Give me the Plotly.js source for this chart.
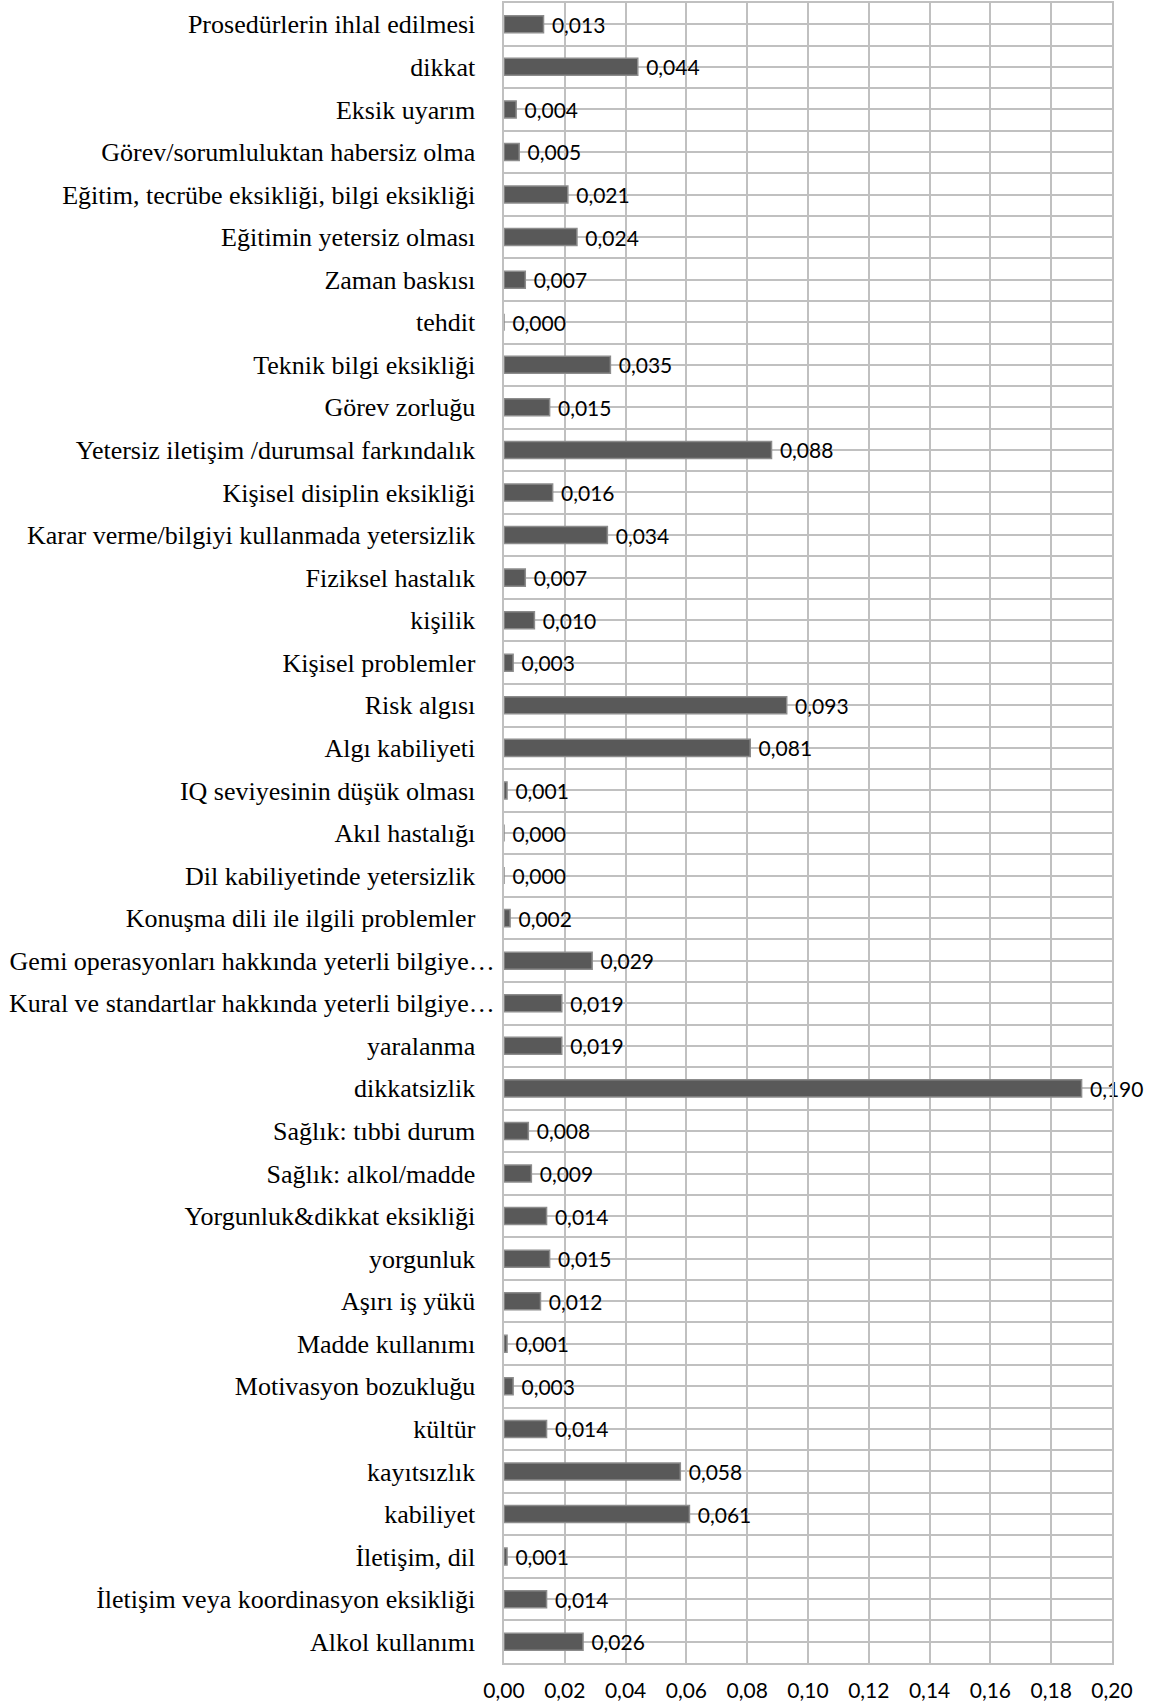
<!DOCTYPE html>
<html>
<head>
<meta charset="utf-8">
<script src="https://cdn.plot.ly/plotly-3.0.1.min.js"></script>
<style>
  html, body { margin: 0; padding: 0; background: #ffffff; }
  #chart { width: 1156px; height: 1708px; }
</style>
</head>
<body>
<div id="chart"></div>
<script>
// Factor names, listed top to bottom
const factors = [
  "Prosedürlerin ihlal edilmesi",
  "dikkat",
  "Eksik uyarım",
  "Görev/sorumluluktan habersiz olma",
  "Eğitim, tecrübe eksikliği, bilgi eksikliği",
  "Eğitimin yetersiz olması",
  "Zaman baskısı",
  "tehdit",
  "Teknik bilgi eksikliği",
  "Görev zorluğu",
  "Yetersiz iletişim /durumsal farkındalık",
  "Kişisel disiplin eksikliği",
  "Karar verme/bilgiyi kullanmada yetersizlik",
  "Fiziksel hastalık",
  "kişilik",
  "Kişisel problemler",
  "Risk algısı",
  "Algı kabiliyeti",
  "IQ seviyesinin düşük olması",
  "Akıl hastalığı",
  "Dil kabiliyetinde yetersizlik",
  "Konuşma dili ile ilgili problemler",
  "Gemi operasyonları hakkında yeterli bilgiye…",
  "Kural ve standartlar hakkında yeterli bilgiye…",
  "yaralanma",
  "dikkatsizlik",
  "Sağlık: tıbbi durum",
  "Sağlık: alkol/madde",
  "Yorgunluk&dikkat eksikliği",
  "yorgunluk",
  "Aşırı iş yükü",
  "Madde kullanımı",
  "Motivasyon bozukluğu",
  "kültür",
  "kayıtsızlık",
  "kabiliyet",
  "İletişim, dil",
  "İletişim veya koordinasyon eksikliği",
  "Alkol kullanımı"
];

// Weight of each factor
const weights = [
  0.013, 0.044, 0.004, 0.005, 0.021, 0.024, 0.007, 0.000, 0.035, 0.015,
  0.088, 0.016, 0.034, 0.007, 0.010, 0.003, 0.093, 0.081, 0.001, 0.000,
  0.000, 0.002, 0.029, 0.019, 0.019, 0.190, 0.008, 0.009, 0.014, 0.015,
  0.012, 0.001, 0.003, 0.014, 0.058, 0.061, 0.001, 0.014, 0.026
];

// Value axis ticks
const xTicks = [0, 0.02, 0.04, 0.06, 0.08, 0.10, 0.12, 0.14, 0.16, 0.18, 0.20];

const gridColor = "#c0c0c0";
const NBSP = "\u00a0";

// Shortened (ellipsis) names run right up to the axis; the rest keep a small gap
const factorLabels = factors.map(f => f.endsWith("…") ? f : f + NBSP + NBSP + NBSP);

const bars = {
  type: "bar",
  orientation: "h",
  x: weights,
  y: factors,
  width: 0.4,
  marker: {
    color: "#595959",
    line: { color: "#8c8c8c", width: 1.5 }
  },
  texttemplate: NBSP + "%{x:.3f}",
  textposition: "outside",
  constraintext: "none",
  cliponaxis: false,
  textfont: { family: "Lato, 'Open Sans', sans-serif", size: 21, color: "#000000" },
  hoverinfo: "x+y"
};

// Empty trace that carries the between-row grid axis
const rowGrid = {
  type: "scatter",
  x: [],
  y: [],
  yaxis: "y2",
  hoverinfo: "skip",
  showlegend: false
};

const layout = {
  width: 1156,
  height: 1708,
  margin: { l: 504, r: 44, t: 3, b: 45 },
  paper_bgcolor: "#ffffff",
  plot_bgcolor: "#ffffff",
  separators: ", ",
  showlegend: false,
  xaxis: {
    range: [0, 0.2],
    tickvals: xTicks,
    tickformat: ".2f",
    showgrid: true,
    gridcolor: gridColor,
    gridwidth: 2,
    zeroline: false,
    showline: true,
    linecolor: gridColor,
    linewidth: 2,
    mirror: true,
    ticks: "",
    ticklabelstandoff: 8,
    tickfont: { family: "Lato, 'Open Sans', sans-serif", size: 21, color: "#000000" }
  },
  yaxis: {
    type: "category",
    autorange: "reversed",
    tickvals: factors,
    ticktext: factorLabels,
    showgrid: true,
    gridcolor: gridColor,
    gridwidth: 2,
    zeroline: false,
    showline: true,
    linecolor: gridColor,
    linewidth: 2,
    mirror: true,
    ticks: "",
    ticklabelstandoff: 2,
    tickfont: { family: "'Liberation Serif', 'Times New Roman', serif", size: 26, color: "#000000" }
  },
  yaxis2: {
    overlaying: "y",
    range: [factors.length - 0.5, -0.5],
    tick0: 0.5,
    dtick: 1,
    showgrid: true,
    gridcolor: gridColor,
    gridwidth: 2,
    zeroline: false,
    showticklabels: false,
    ticks: "",
    showline: false
  }
};

Plotly.newPlot("chart", [bars, rowGrid], layout, { displayModeBar: false, staticPlot: true });
</script>
</body>
</html>
